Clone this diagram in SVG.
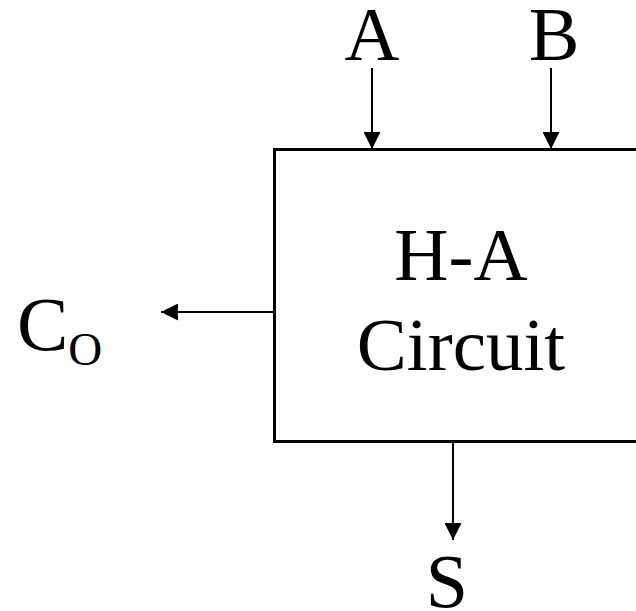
<svg xmlns="http://www.w3.org/2000/svg" width="636" height="611" viewBox="0 0 636 611">
<defs>
<style>
.t{font-family:"Liberation Serif","Times New Roman",serif;fill:#000}
.l{stroke:#000;stroke-width:2;fill:none}
</style>
<marker id="ah" markerWidth="9" markerHeight="9" refX="9" refY="4.5" orient="auto" markerUnits="userSpaceOnUse" viewBox="0 0 9 9">
<path d="M0,0 L9,4.5 L0,9 Z" fill="#000"/>
</marker>
<marker id="ah2" viewBox="0 0 17 17" refX="17" refY="8.5" markerWidth="17" markerHeight="17" orient="auto" markerUnits="userSpaceOnUse">
<path d="M0,0 L17,8.5 L0,17 Z" fill="#000"/>
</marker>
</defs>
<rect width="636" height="611" fill="#fff"/>
<g id="box">
<rect x="274.5" y="149.5" width="400" height="292" fill="#fff" stroke="#000" stroke-width="3"/>
<text class="t" x="461" y="280" font-size="75" text-anchor="middle">H-A</text>
<text class="t" x="461" y="370" font-size="75" text-anchor="middle">Circuit</text>
</g>
<g id="labelA"><text class="t" x="372" y="60" font-size="76" text-anchor="middle">A</text></g>
<g id="labelB"><text class="t" x="554" y="60" font-size="76" text-anchor="middle">B</text></g>
<g id="labelCo"><text class="t" x="17" y="350" font-size="77">C<tspan font-size="47" dy="15">O</tspan></text></g>
<g id="labelS"><text class="t" x="447" y="607" font-size="76" text-anchor="middle">S</text></g>
<g id="connectors">
<line class="l" x1="372" y1="68" x2="372" y2="149" marker-end="url(#ah2)"/>
<line class="l" x1="551" y1="68" x2="551" y2="149" marker-end="url(#ah2)"/>
<line class="l" x1="274" y1="312" x2="161" y2="312" marker-end="url(#ah2)"/>
<line class="l" x1="453" y1="441" x2="453" y2="540" marker-end="url(#ah2)"/>
</g>
</svg>
